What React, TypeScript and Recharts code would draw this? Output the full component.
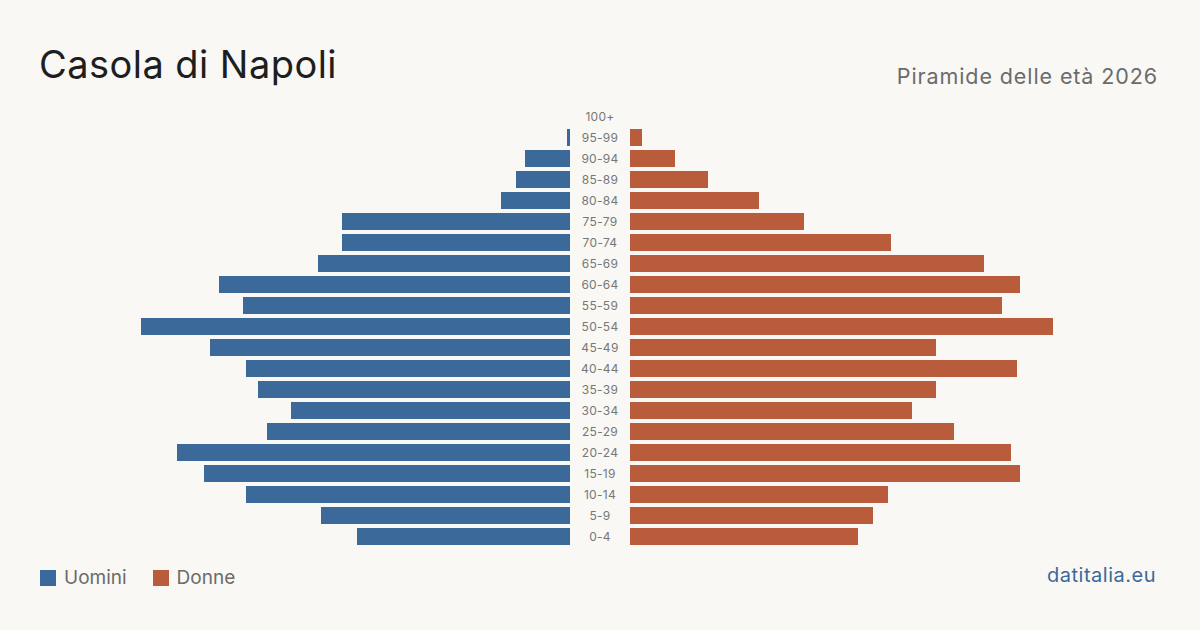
import { BarChart, Bar, XAxis, YAxis } from "recharts";

const ageGroups = [
  "100+", "95-99", "90-94", "85-89", "80-84", "75-79", "70-74", "65-69", "60-64", "55-59",
  "50-54", "45-49", "40-44", "35-39", "30-34", "25-29", "20-24", "15-19", "10-14", "5-9", "0-4",
];
const men = [0, 1, 15, 18, 23, 76, 76, 84, 117, 109, 143, 120, 108, 104, 93, 101, 131, 122, 108, 83, 71];
const women = [0, 4, 15, 26, 43, 58, 87, 118, 130, 124, 141, 102, 129, 102, 94, 108, 127, 130, 86, 81, 76];

const data = ageGroups.map((age, i) => ({ age, men: men[i], women: women[i] }));

const BLUE = "#3b6a9a";
const ORANGE = "#b95c3c";
const FONT = "Inter, 'Noto Sans', sans-serif";

const AgeTick = ({ y, payload }: any) => (
  <text x={30} y={y} dy={4} textAnchor="middle" fontSize={12} fill="#777" fontFamily={FONT} letterSpacing={0.3}>
    {payload.value}
  </text>
);

export default function App() {
  return (
    <div
      style={{
        position: "absolute",
        left: 0,
        top: 0,
        width: 1200,
        height: 630,
        background: "#f9f8f4",
        fontFamily: FONT,
        overflow: "hidden",
      }}
    >
      <div style={{ position: "absolute", left: 39, top: 41, fontSize: 38, color: "#1e1e1e", lineHeight: "46px", letterSpacing: 0.45 }}>
        Casola di Napoli
      </div>
      <div style={{ position: "absolute", right: 42, top: 62, fontSize: 21.5, color: "#6b6b6b", lineHeight: "28px", letterSpacing: 0.9 }}>
        Piramide delle età 2026
      </div>

      <div style={{ position: "absolute", left: 120, top: 106 }}>
        <BarChart width={450} height={441} data={data} layout="vertical" margin={{ top: 0, right: 0, bottom: 0, left: 0 }} barCategoryGap={2}>
          <XAxis type="number" domain={[0, 150]} reversed hide />
          <YAxis type="category" dataKey="age" hide />
          <Bar dataKey="men" fill={BLUE} barSize={17} isAnimationActive={false} />
        </BarChart>
      </div>

      <div style={{ position: "absolute", left: 570, top: 106 }}>
        <BarChart width={510} height={441} data={data} layout="vertical" margin={{ top: 0, right: 0, bottom: 0, left: 0 }} barCategoryGap={2}>
          <XAxis type="number" domain={[0, 150]} hide />
          <YAxis
            type="category"
            dataKey="age"
            width={60}
            axisLine={false}
            tickLine={false}
            interval={0}
            tick={<AgeTick />}
          />
          <Bar dataKey="women" fill={ORANGE} barSize={17} isAnimationActive={false} />
        </BarChart>
      </div>

      <div style={{ position: "absolute", left: 40, top: 566, display: "flex", alignItems: "center", fontSize: 19, color: "#6b6b6b" }}>
        <span style={{ width: 16, height: 16, background: BLUE, display: "inline-block", marginRight: 8 }} />
        <span style={{ marginRight: 26 }}>Uomini</span>
        <span style={{ width: 16, height: 16, background: ORANGE, display: "inline-block", marginRight: 8 }} />
        <span>Donne</span>
      </div>
      <div style={{ position: "absolute", right: 44, top: 563, fontSize: 20, color: BLUE, letterSpacing: 0.5 }}>datitalia.eu</div>
    </div>
  );
}
